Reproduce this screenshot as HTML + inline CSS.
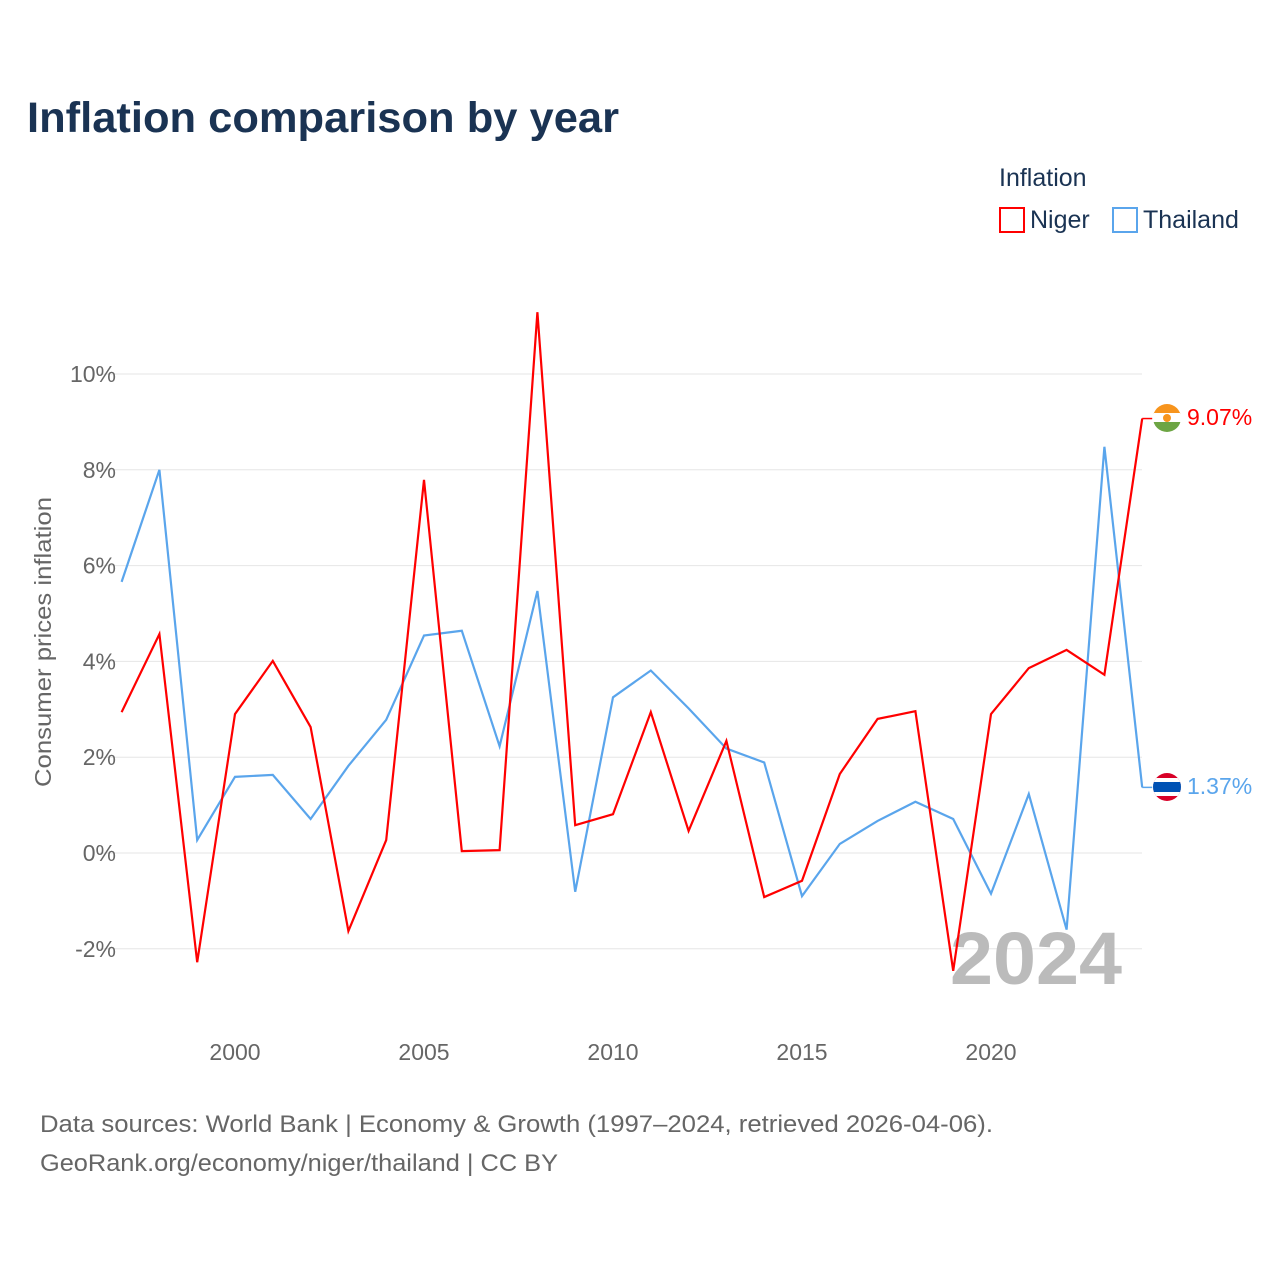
<!DOCTYPE html>
<html><head><meta charset="utf-8"><style>
body{margin:0;background:#fff;font-family:"Liberation Sans",sans-serif}
svg text{font-family:"Liberation Sans",sans-serif}
</style></head><body>
<svg id="chart" width="1280" height="1280" xmlns="http://www.w3.org/2000/svg">
<text x="27" y="132" font-size="43" font-weight="bold" fill="#1a3353" textLength="592" lengthAdjust="spacingAndGlyphs">Inflation comparison by year</text>
<text x="999" y="186" font-size="25" fill="#1a3353">Inflation</text>
<rect x="1000" y="208" width="24" height="24" fill="none" stroke="#ff0000" stroke-width="2"/>
<text x="1030" y="228" font-size="25" fill="#1a3353">Niger</text>
<rect x="1113" y="208" width="24" height="24" fill="none" stroke="#5aa5ec" stroke-width="2"/>
<text x="1143" y="228" font-size="25" fill="#1a3353">Thailand</text>
<text transform="translate(51,642) rotate(-90)" text-anchor="middle" font-size="23" fill="#666" textLength="290" lengthAdjust="spacingAndGlyphs">Consumer prices inflation</text>
<g id="grid"></g><g id="xt"></g>
<text x="950" y="984" font-size="74" font-weight="bold" fill="#bbb" textLength="172" lengthAdjust="spacingAndGlyphs">2024</text>
<g id="lines"></g>
<g><clipPath id="c1"><circle cx="1167" cy="418" r="14"/></clipPath><g clip-path="url(#c1)"><rect x="1153" y="404" width="28" height="10" fill="#f7941d"/><rect x="1153" y="413" width="28" height="10" fill="#fff"/><rect x="1153" y="422" width="28" height="10" fill="#6da544"/><circle cx="1167" cy="418" r="4" fill="#f7941d"/></g></g>
<g><clipPath id="c2"><circle cx="1167" cy="787" r="14"/></clipPath><g clip-path="url(#c2)"><rect x="1153" y="773" width="28" height="28" fill="#d80027"/><rect x="1153" y="778" width="28" height="18" fill="#fff"/><rect x="1153" y="782" width="28" height="10" fill="#0052b4"/></g></g>
<text x="1187" y="425" font-size="23" fill="#ff0000">9.07%</text>
<text x="1187" y="794" font-size="23" fill="#5aa5ec">1.37%</text>
<text x="40" y="1132" font-size="24" fill="#666" textLength="953" lengthAdjust="spacingAndGlyphs">Data sources: World Bank | Economy &amp; Growth (1997–2024, retrieved 2026-04-06).</text>
<text x="40" y="1171" font-size="24" fill="#666" textLength="518" lengthAdjust="spacingAndGlyphs">GeoRank.org/economy/niger/thailand | CC BY</text>
</svg>
<script>
const years=[1997,1998,1999,2000,2001,2002,2003,2004,2005,2006,2007,2008,2009,2010,2011,2012,2013,2014,2015,2016,2017,2018,2019,2020,2021,2022,2023,2024];
const niger=[2.94,4.57,-2.28,2.90,4.01,2.63,-1.63,0.27,7.79,0.04,0.06,11.29,0.58,0.81,2.94,0.46,2.34,-0.92,-0.58,1.65,2.80,2.96,-2.46,2.90,3.86,4.24,3.72,9.07];
const thailand=[5.66,8.0,0.27,1.59,1.63,0.71,1.82,2.78,4.54,4.64,2.23,5.47,-0.81,3.25,3.81,3.02,2.18,1.89,-0.90,0.19,0.67,1.07,0.71,-0.85,1.23,-1.60,8.48,1.37];
const yTicks=[-2,0,2,4,6,8,10];
const yTickLabels=["-2%","0%","2%","4%","6%","8%","10%"];
const xTicks=[2000,2005,2010,2015,2020];
const NS="http://www.w3.org/2000/svg";
const x=v=>121.6+(v-1997)*37.8;
const y=v=>853-v*47.9;
function mk(t,a,p){const e=document.createElementNS(NS,t);for(const k in a)e.setAttribute(k,a[k]);p.appendChild(e);return e;}
const g=document.getElementById('grid');
yTicks.forEach((t,i)=>{
 const l=mk('line',{x1:100,x2:1142,y1:y(t),y2:y(t),stroke:'#e6e6e6','stroke-width':1},g);
 
 
 const tx=mk('text',{x:116,y:y(t)+8,'text-anchor':'end','font-size':23,fill:'#666'},g);
 tx.textContent=yTickLabels[i];
 
 
});
const xt=document.getElementById('xt');
xTicks.forEach(t=>{
 const tx=mk('text',{x:x(t),y:1060,'text-anchor':'middle','font-size':23,fill:'#666'},xt);
 tx.textContent=t;
 
 
});
const L=document.getElementById('lines');
function line(vals,col,name){
 const p=mk('polyline',{points:vals.map((v,i)=>x(years[i])+','+y(v)).join(' '),fill:'none',stroke:col,'stroke-width':2.2,'stroke-linejoin':'miter'},L);
 
 
 const last=vals[vals.length-1];
 const c=mk('line',{x1:x(2024),x2:x(2024)+10,y1:y(last),y2:y(last),stroke:col,'stroke-width':1.5},L);
 
 
}
line(thailand,'#5aa5ec','thailand-line');
line(niger,'#ff0000','niger-line');
</script>
</body></html>
